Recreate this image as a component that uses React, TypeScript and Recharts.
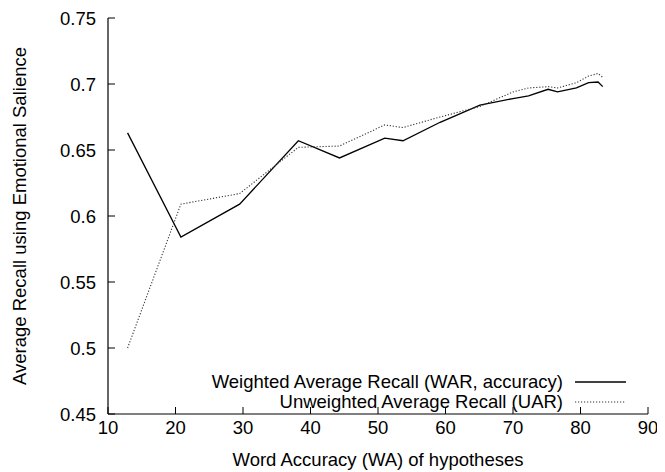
import React from 'react';
import { LineChart, Line, XAxis, YAxis } from 'recharts';

// Word Accuracy (WA) of hypotheses
const WA = [12.9, 20.8, 29.5, 38.2, 44.3, 51.0, 53.7, 59.2, 65.1, 70.0, 72.3, 75.2, 76.6, 79.4, 81.2, 82.6, 83.3];
// Weighted Average Recall (WAR, accuracy)
const WAR = [0.663, 0.584, 0.609, 0.657, 0.644, 0.659, 0.657, 0.671, 0.684, 0.689, 0.691, 0.696, 0.694, 0.697, 0.701, 0.7015, 0.698];
// Unweighted Average Recall (UAR)
const UAR = [0.5, 0.609, 0.617, 0.652, 0.653, 0.669, 0.667, 0.675, 0.683, 0.694, 0.697, 0.698, 0.697, 0.701, 0.706, 0.708, 0.705];

const X_TICKS = [10, 20, 30, 40, 50, 60, 70, 80, 90];
const Y_TICKS = [0.45, 0.5, 0.55, 0.6, 0.65, 0.7, 0.75];
const Y_TICK_LABELS = ['0.45', '0.5', '0.55', '0.6', '0.65', '0.7', '0.75'];

const SERIES_WAR = 'Weighted Average Recall (WAR, accuracy)';
const SERIES_UAR = 'Unweighted Average Recall (UAR)';
const X_TITLE = 'Word Accuracy (WA) of hypotheses';
const Y_TITLE = 'Average Recall using Emotional Salience';

const data = WA.map((x, i) => ({ x, war: WAR[i], uar: UAR[i] }));

const FONT = '"Liberation Sans", Arial, Helvetica, sans-serif';
const FS = 18.5;
const W = 657;
const H = 464;

const XTick = (props: any) => (
  <text x={props.x} y={props.y} dy={27} textAnchor="middle" fontFamily={FONT} fontSize={FS} fill="#000">
    {props.payload.value}
  </text>
);

const YTick = (props: any) => {
  const idx = Y_TICKS.indexOf(props.payload.value);
  const label = idx >= 0 ? Y_TICK_LABELS[idx] : String(props.payload.value);
  return (
    <text x={props.x - 19} y={props.y} dy="0.36em" textAnchor="end" fontFamily={FONT} fontSize={FS} fill="#000">
      {label}
    </text>
  );
};

const NoTick = () => <g />;

const XTitle = (props: any) => {
  const vb = props.viewBox;
  return (
    <text x={vb.x + vb.width / 2} y={vb.y + 52} textAnchor="middle" fontFamily={FONT} fontSize={FS} fill="#000">
      {X_TITLE}
    </text>
  );
};

const YTitle = (props: any) => {
  const vb = props.viewBox;
  const cx = 11;
  const cy = vb.y + vb.height / 2;
  return (
    <text x={cx} y={cy} dy="0.36em" textAnchor="middle" transform={`rotate(-90, ${cx}, ${cy})`} fontFamily={FONT} fontSize={FS} fill="#000">
      {Y_TITLE}
    </text>
  );
};

export default function App() {
  const axisLine = { stroke: '#000', strokeWidth: 1.2 };
  const tickLine = { stroke: '#000', strokeWidth: 1 };
  return (
    <div style={{ position: 'relative', width: W, height: H }}>
      <LineChart width={W} height={H} data={data} margin={{ top: 10, right: 17, left: 0, bottom: 0 }}>
        <XAxis
          xAxisId="bottom"
          dataKey="x"
          type="number"
          domain={[10, 90]}
          ticks={X_TICKS}
          height={58}
          tickSize={-7}
          tickMargin={0}
          axisLine={axisLine}
          tickLine={tickLine}
          tick={<XTick />}
          label={<XTitle />}
          interval={0}
        />
        <XAxis
          xAxisId="top"
          orientation="top"
          dataKey="x"
          type="number"
          domain={[10, 90]}
          ticks={X_TICKS}
          height={0}
          tickSize={-7}
          axisLine={axisLine}
          tickLine={tickLine}
          tick={<NoTick />}
          interval={0}
        />
        <YAxis
          yAxisId="left"
          type="number"
          domain={[0.45, 0.75]}
          ticks={Y_TICKS}
          width={100}
          tickSize={-7}
          tickMargin={0}
          axisLine={axisLine}
          tickLine={tickLine}
          tick={<YTick />}
          label={<YTitle />}
          interval={0}
        />
        <YAxis
          yAxisId="right"
          orientation="right"
          type="number"
          domain={[0.45, 0.75]}
          ticks={Y_TICKS}
          width={0}
          tickSize={-7}
          axisLine={axisLine}
          tickLine={tickLine}
          tick={<NoTick />}
          interval={0}
        />
        <Line
          xAxisId="bottom"
          yAxisId="left"
          type="linear"
          dataKey="war"
          name={SERIES_WAR}
          stroke="#000"
          strokeWidth={1.3}
          dot={false}
          isAnimationActive={false}
        />
        <Line
          xAxisId="bottom"
          yAxisId="left"
          type="linear"
          dataKey="uar"
          name={SERIES_UAR}
          stroke="#333"
          strokeWidth={1.1}
          strokeDasharray="1.2 1.8"
          dot={false}
          isAnimationActive={false}
        />
      </LineChart>
      {[
        { name: SERIES_WAR, cy: 374, dash: undefined as string | undefined, color: '#000', w: 1.3 },
        { name: SERIES_UAR, cy: 394, dash: '1.2 1.8', color: '#333', w: 1.1 },
      ].map((r) => (
        <React.Fragment key={r.name}>
          <div
            style={{
              position: 'absolute',
              right: W - 555,
              top: r.cy - 10,
              height: 20,
              lineHeight: '20px',
              whiteSpace: 'nowrap',
              fontFamily: FONT,
              fontSize: FS,
              color: '#000',
              textAlign: 'right',
            }}
          >
            {r.name}
          </div>
          <svg style={{ position: 'absolute', left: 567, top: r.cy - 2, overflow: 'visible' }} width={51} height={4}>
            <line x1={0} y1={2} x2={51} y2={2} stroke={r.color} strokeWidth={r.w} strokeDasharray={r.dash} />
          </svg>
        </React.Fragment>
      ))}
    </div>
  );
}
